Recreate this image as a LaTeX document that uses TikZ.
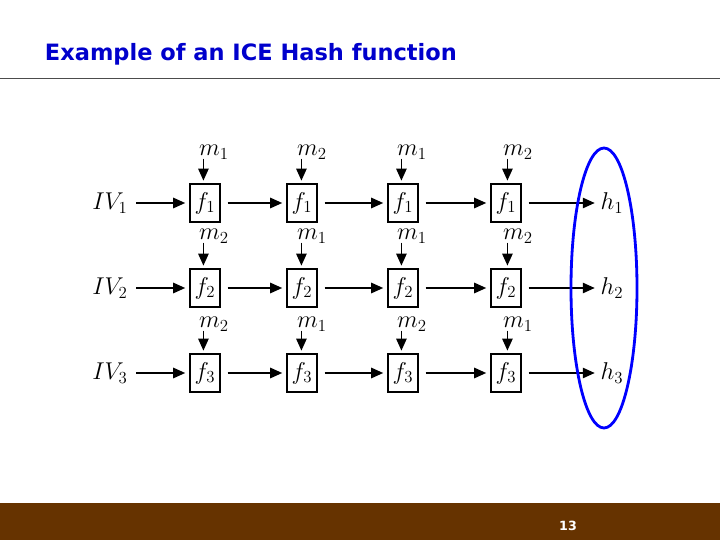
\documentclass[tikz,border=0pt]{standalone}
\usepackage{fontspec}
\newfontfamily\titlefont{DejaVu Sans}
\usepackage{xcolor}
\usetikzlibrary{arrows.meta}
\usetikzlibrary{shapes.geometric}
\definecolor{barbrown}{HTML}{663300}
\definecolor{titleblue}{HTML}{0000CC}

\begin{document}
\begin{tikzpicture}[>={Triangle[width=2.6mm,length=3mm]},
    fbox/.style = {rectangle, draw=black, thick, minimum width=0.75cm,
                   minimum height=0.95cm, inner sep=0pt, font=\LARGE},
    lab/.style = {font=\LARGE, inner sep=1pt},
    flow/.style = {->, line width=1.1pt, shorten <=5pt, shorten >=3pt}]
  \useasboundingbox (0,0) rectangle (18,13.5);
  % slide frame
  \fill[barbrown] (0,0) rectangle (18,0.925);
  \node (page) at (14.2,0.35) [text=white, font=\titlefont\bfseries\small] {13};
  \draw[gray!60!black] (0,11.55) -- (18,11.55);
  \node (title) [anchor=west, text=titleblue, font=\titlefont\bfseries\fontsize{16}{20}\selectfont]
    at (1.0,12.15) {Example of an ICE Hash function};

  % rows
  \foreach \r/\y in {1/8.425, 2/6.3, 3/4.175} {
    \node (iv\r) at (2.75,\y) [lab] {$IV_{\r}$};
    \node (h\r) at (15.3,\y) [lab] {$h_{\r}$};
    \foreach \c/\x in {1/5.125, 2/7.55, 3/10.075, 4/12.65}
      \node (f\r\c) at (\x,\y) [fbox] {$f_{\r}$};
    \draw[flow] (iv\r) -- (f\r1);
    \draw[flow] (f\r1) -- (f\r2);
    \draw[flow] (f\r2) -- (f\r3);
    \draw[flow] (f\r3) -- (f\r4);
    \draw[flow] (f\r4) -- (h\r);
  }

  % message blocks
  \foreach \r/\y/\a/\b/\c/\d in {1/9.7/1/2/1/2, 2/7.6/2/1/1/2, 3/5.4/2/1/2/1} {
    \node (m\r1) at (5.35,\y) [lab] {$m_{\a}$};
    \node (m\r2) at (7.8,\y) [lab] {$m_{\b}$};
    \node (m\r3) at (10.3,\y) [lab] {$m_{\c}$};
    \node (m\r4) at (12.95,\y) [lab] {$m_{\d}$};
    \foreach \c in {1,...,4}
      \draw[->, line width=1.1pt, shorten >=2pt] (m\r\c.south west) ++(0.15,0.05) coordinate (t\r\c)
        (t\r\c) -- (t\r\c |- f\r\c.north);
  }

  % output group
  \node (grp) at (15.1,6.3) [draw=blue, line width=2pt, ellipse,
    minimum width=1.65cm, minimum height=7cm] {};
\end{tikzpicture}
\end{document}
